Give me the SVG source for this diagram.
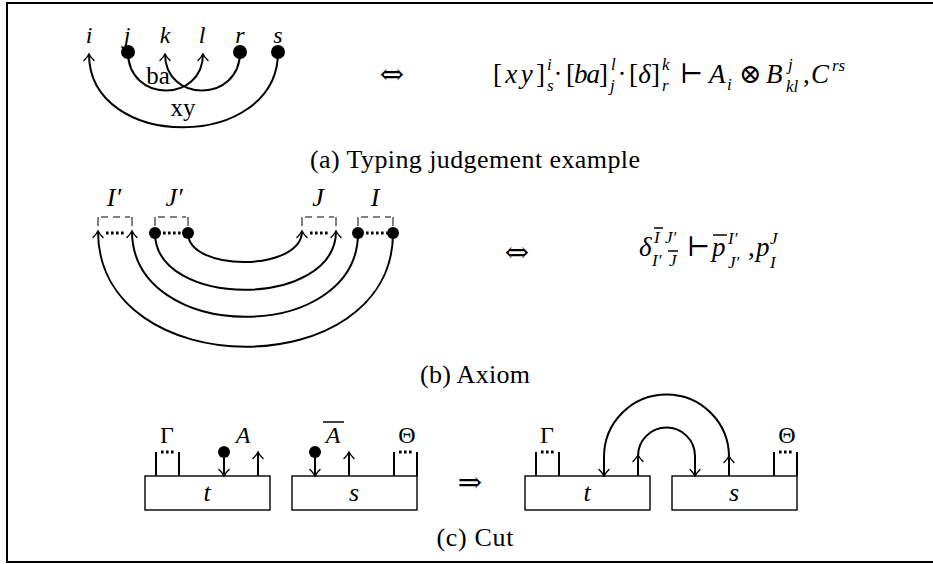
<svg xmlns="http://www.w3.org/2000/svg" width="933" height="564" viewBox="0 0 933 564" font-family="'Liberation Serif', 'DejaVu Serif', 'Times New Roman', serif">
<style>
.w{fill:none;stroke:#000;stroke-width:2}
.bx{fill:#fff;stroke:#000;stroke-width:1.4}
.dot{fill:#000}
.dl{fill:none;stroke:#000;stroke-width:3;stroke-dasharray:2.6 2.4}
.br{fill:none;stroke:#000;stroke-width:1}
.brd{fill:none;stroke:#000;stroke-width:1;stroke-dasharray:7 5}
.ol{stroke:#000;stroke-width:1.5}
text{font-family:'Liberation Serif','DejaVu Serif','Times New Roman',serif;fill:#000}
.m{font-style:italic}
.sy{font-family:'DejaVu Serif','DejaVu Sans',serif}
.cap{font-size:26px;text-anchor:middle}
.lb{font-size:24px;text-anchor:middle}
.lb2{font-size:26px;text-anchor:middle}
.f{font-size:27px}
.s{font-size:17px}
</style>
<defs>
<marker id="ar" viewBox="-8 -6 10 12" markerWidth="10" markerHeight="12" refX="0" refY="0" orient="auto" markerUnits="userSpaceOnUse">
<path d="M-6.5,-5 C-3.8,-2.2 -1.3,-0.6 0,0 C-1.3,0.6 -3.8,2.2 -6.5,5" fill="none" stroke="#000" stroke-width="1.4" stroke-linecap="round"/>
</marker>
</defs>
<rect x="7" y="3" width="950" height="559" fill="none" stroke="#000" stroke-width="2"/>

<!-- (a) -->
<g id="a-labels">
<text class="lb m" x="89" y="43">i</text>
<text class="lb m" x="127" y="43">j</text>
<text class="lb m" x="165" y="43">k</text>
<text class="lb m" x="202" y="43">l</text>
<text class="lb m" x="240" y="43">r</text>
<text class="lb m" x="278" y="43">s</text>
</g>
<g id="a-connectors">
<path class="w" d="M278,52 C278,152 89,152 89,54" marker-end="url(#ar)"/>
<path class="w" d="M128,52 C128,103 203,103 203,54" marker-end="url(#ar)"/>
<path class="w" d="M240,52 C240,103 165,103 165,54" marker-end="url(#ar)"/>
</g>
<g id="a-nodes">
<circle class="dot" cx="128" cy="52" r="7"/>
<circle class="dot" cx="240" cy="52" r="7"/>
<circle class="dot" cx="278" cy="52" r="7"/>
<text x="158" y="84" style="font-size:25px;text-anchor:middle">ba</text>
<text x="183" y="116" style="font-size:25px;text-anchor:middle">xy</text>
</g>
<g id="a-equiv"><text class="sy" x="392" y="84" style="font-size:29px;text-anchor:middle">⇔</text></g>
<g id="a-formula">
<text class="f" x="493" y="83" textLength="52">[<tspan class="m">xy</tspan>]</text>
<text class="s m" x="547" y="70">i</text><text class="s m" x="547" y="91">s</text>
<text class="f" x="558" y="83" style="text-anchor:middle">·</text>
<text class="f" x="566" y="83" textLength="42">[<tspan class="m">ba</tspan>]</text>
<text class="s m" x="611" y="70">l</text><text class="s m" x="610" y="91">j</text>
<text class="f" x="622" y="83" style="text-anchor:middle">·</text>
<text class="f" x="629" y="83" textLength="31">[<tspan class="m">δ</tspan>]</text>
<text class="s m" x="662" y="70">k</text><text class="s m" x="662" y="91">r</text>
<text class="f sy" x="680" y="83">⊢</text>
<text class="f m" x="709" y="83">A</text><text class="s m" x="727" y="90">i</text>
<text class="f sy" x="739" y="83">⊗</text>
<text class="f m" x="766" y="83">B</text><text class="s m" x="788" y="70">j</text><text class="s m" x="786" y="92">kl</text>
<text class="f" x="803" y="83">,</text>
<text class="f m" x="811" y="83">C</text><text class="s m" x="832" y="71">rs</text>
</g>
<text class="cap" x="475" y="168" textLength="330">(a) Typing judgement example</text>

<!-- (b) -->
<g id="b-labels">
<text class="lb2 m" x="114" y="206">I′</text>
<text class="lb2 m" x="174" y="206">J′</text>
<text class="lb2 m" x="318" y="206">J</text>
<text class="lb2 m" x="375" y="206">I</text>
</g>
<g id="b-brackets">
<path class="br" d="M98,217 V226 M132,217 V226 M155,217 V226 M188,217 V226 M302,217 V226 M336,217 V226 M358,217 V226 M393,217 V226"/>
<path class="brd" d="M101,217 H130 M158,217 H186 M305,217 H334 M361,217 H391"/>
<path class="dl" d="M106,233 H126 M163,233 H182 M310,233 H330 M366,233 H387"/>
</g>
<g id="b-connectors">
<path class="w" d="M188,233 C188,272 302,272 302,231" marker-end="url(#ar)"/>
<path class="w" d="M155,233 C155,309 336,309 336,231" marker-end="url(#ar)"/>
<path class="w" d="M358,233 C358,345 132,345 132,231" marker-end="url(#ar)"/>
<path class="w" d="M393,233 C393,385 98,385 98,231" marker-end="url(#ar)"/>
</g>
<g id="b-nodes">
<circle class="dot" cx="155" cy="233" r="6"/>
<circle class="dot" cx="188" cy="233" r="6"/>
<circle class="dot" cx="358" cy="233" r="6"/>
<circle class="dot" cx="393" cy="233" r="6"/>
</g>
<g id="b-equiv"><text class="sy" x="517" y="262" style="font-size:29px;text-anchor:middle">⇔</text></g>
<g id="b-formula">
<text class="f m" x="639" y="256">δ</text>
<text class="s m" x="654" y="243">I</text><line class="ol" x1="654" y1="228" x2="663" y2="228"/>
<text class="s m" x="665" y="243">J′</text>
<text class="s m" x="652" y="266">I′</text>
<text class="s m" x="669" y="266">J</text><line class="ol" x1="668" y1="251" x2="678" y2="251"/>
<text class="f sy" x="687" y="256">⊢</text>
<text class="f m" x="712" y="256">p</text><line class="ol" x1="713" y1="235" x2="727" y2="235"/>
<text class="s m" x="728" y="244">I′</text><text class="s m" x="728" y="268">J′</text>
<text class="f" x="748" y="256">,</text>
<text class="f m" x="756" y="256">p</text>
<text class="s m" x="770" y="244">J</text><text class="s m" x="770" y="268">I</text>
</g>
<text class="cap" x="475" y="383" textLength="110">(b) Axiom</text>

<!-- (c) left -->
<g id="c-t1">
<rect class="bx" x="145" y="476" width="125" height="34"/>
<text class="lb2 m" x="207" y="501">t</text>
<text class="lb" x="167" y="443">Γ</text>
<path class="w" d="M156,452 V476 M179,452 V476"/>
<path class="dl" d="M161,452 H175"/>
<text class="lb m" x="243" y="443">A</text>
<circle class="dot" cx="224" cy="452" r="6"/>
<path class="w" d="M224,456 V476" marker-end="url(#ar)"/>
<path class="w" d="M258,476 V452" marker-end="url(#ar)"/>
</g>
<g id="c-s1">
<rect class="bx" x="292" y="476" width="125" height="34"/>
<text class="lb2 m" x="354" y="501">s</text>
<text class="lb m" x="333" y="443">A</text><line class="ol" x1="323" y1="422" x2="344" y2="422"/>
<circle class="dot" cx="315" cy="452" r="6"/>
<path class="w" d="M315,456 V476" marker-end="url(#ar)"/>
<path class="w" d="M349,476 V452" marker-end="url(#ar)"/>
<text class="lb" x="407" y="443">Θ</text>
<path class="w" d="M394,452 V476 M417,452 V476"/>
<path class="dl" d="M399,452 H413"/>
</g>
<g id="c-arrow"><text class="sy" x="470" y="492" style="font-size:29px;text-anchor:middle">⇒</text></g>

<!-- (c) right -->
<g id="c-t2">
<rect class="bx" x="525" y="476" width="125" height="34"/>
<text class="lb2 m" x="587" y="501">t</text>
<text class="lb" x="547" y="443">Γ</text>
<path class="w" d="M536,452 V476 M559,452 V476"/>
<path class="dl" d="M541,452 H555"/>
</g>
<g id="c-s2">
<rect class="bx" x="672" y="476" width="125" height="34"/>
<text class="lb2 m" x="734" y="501">s</text>
<text class="lb" x="787" y="443">Θ</text>
<path class="w" d="M774,452 V476 M797,452 V476"/>
<path class="dl" d="M779,452 H793"/>
</g>
<g id="c-connectors">
<path class="w" d="M729,476 V456" marker-end="url(#ar)"/>
<path class="w" d="M729,457 A62.5,62.5 0 0 0 604,457 V476" marker-end="url(#ar)"/>
<path class="w" d="M638,476 V455" marker-end="url(#ar)"/>
<path class="w" d="M638,456 A28.5,28.5 0 0 1 695,456 V476" marker-end="url(#ar)"/>
</g>
<text class="cap" x="475" y="546" textLength="77">(c) Cut</text>
</svg>
